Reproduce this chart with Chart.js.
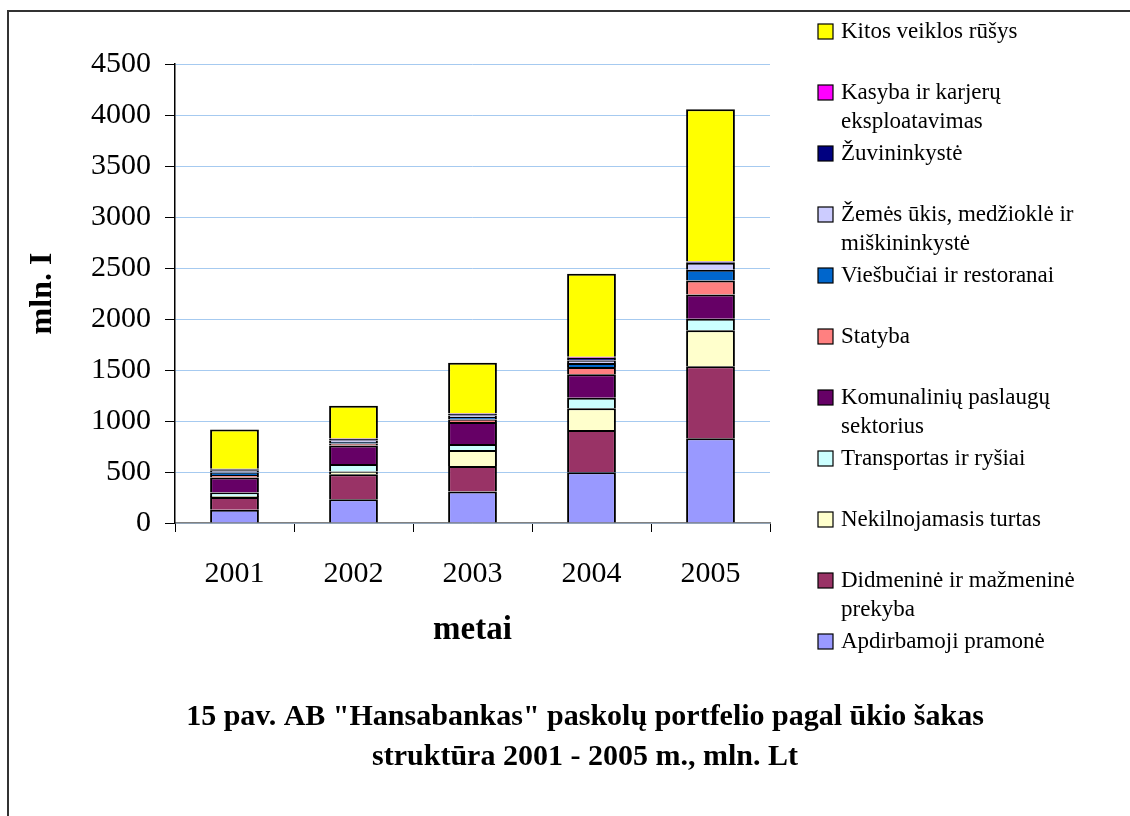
<!DOCTYPE html>
<html>
<head>
<meta charset="utf-8">
<script src="https://cdn.jsdelivr.net/npm/chart.js@4.4.1/dist/chart.umd.min.js"></script>
<style>
  html, body { margin: 0; padding: 0; background: #fff; }
  #wrap { width: 1130px; height: 816px; position: relative; }
</style>
</head>
<body>
<div id="wrap"><canvas id="chart" width="1130" height="816"></canvas></div>
<script>
const years = ['2001', '2002', '2003', '2004', '2005'];

// stacked bottom -> top
const apdirbamoji = [130, 234, 309, 498, 830];
const didmenine = [125, 245, 250, 414, 707];
const nekilnojamasis = [10, 25, 156, 212, 352];
const transportas = [35, 75, 60, 105, 114];
const komunaliniu = [146, 180, 215, 230, 236];
const statyba = [25, 20, 25, 70, 138];
const viesbuciai = [25, 15, 25, 40, 105];
const zemesUkis = [20, 15, 15, 25, 70];
const zuvininkyste = [10, 15, 15, 25, 10];
const kasyba = [5, 5, 5, 10, 5];
const kitos = [385, 320, 495, 815, 1490];

const yTicks = [0, 500, 1000, 1500, 2000, 2500, 3000, 3500, 4000, 4500];

const serif = "'Liberation Serif', 'Times New Roman', serif";

const series = [
  ['Apdirbamoji pramonė', apdirbamoji, '#9999FF'],
  ['Didmeninė ir mažmeninė prekyba', didmenine, '#993366'],
  ['Nekilnojamasis turtas', nekilnojamasis, '#FFFFCC'],
  ['Transportas ir ryšiai', transportas, '#CCFFFF'],
  ['Komunalinių paslaugų sektorius', komunaliniu, '#660066'],
  ['Statyba', statyba, '#FF8080'],
  ['Viešbučiai ir restoranai', viesbuciai, '#0066CC'],
  ['Žemės ūkis, medžioklė ir miškininkystė', zemesUkis, '#CCCCFF'],
  ['Žuvininkystė', zuvininkyste, '#000080'],
  ['Kasyba ir karjerų eksploatavimas', kasyba, '#FF00FF'],
  ['Kitos veiklos rūšys', kitos, '#FFFF00']
];

const datasets = series.map(([label, data, color]) => ({
  label: label,
  data: data,
  backgroundColor: color,
  borderColor: '#000',
  borderWidth: 2,
  barPercentage: 0.41,
  categoryPercentage: 1
}));

function wrapText(ctx, text, maxWidth) {
  const words = text.split(' ');
  const lines = [];
  let line = '';
  words.forEach(w => {
    const test = line ? line + ' ' + w : w;
    if (ctx.measureText(test).width > maxWidth && line) {
      lines.push(line);
      line = w;
    } else {
      line = test;
    }
  });
  lines.push(line);
  return lines;
}

const decorations = {
  id: 'decorations',
  afterDraw(chart) {
    const ctx = chart.ctx;
    ctx.save();
    // frame
    ctx.strokeStyle = '#333';
    ctx.lineWidth = 2;
    ctx.beginPath();
    ctx.moveTo(8, 820);
    ctx.lineTo(8, 11);
    ctx.lineTo(1132, 11);
    ctx.stroke();

    // legend, top entry = last dataset
    ctx.font = '23px ' + serif;
    ctx.textBaseline = 'middle';
    ctx.textAlign = 'left';
    const ds = chart.data.datasets.slice().reverse();
    ds.forEach((d, i) => {
      const y = 32 + i * 61;
      ctx.fillStyle = d.backgroundColor;
      ctx.fillRect(818, y - 8, 15, 15);
      ctx.strokeStyle = '#000';
      ctx.lineWidth = 1.2;
      ctx.strokeRect(818, y - 8, 15, 15);
      ctx.fillStyle = '#000';
      wrapText(ctx, d.label, 272).forEach((ln, j) => {
        ctx.fillText(ln, 841, y + j * 29);
      });
    });

    // caption
    ctx.font = 'bold 30px ' + serif;
    ctx.textAlign = 'center';
    ctx.fillText('15 pav. AB "Hansabankas" paskolų portfelio pagal ūkio šakas', 585, 717);
    ctx.fillText('struktūra 2001 - 2005 m., mln. Lt', 585, 757);
    ctx.restore();
  }
};

new Chart(document.getElementById('chart'), {
  type: 'bar',
  data: { labels: years, datasets: datasets },
  options: {
    responsive: false,
    animation: false,
    layout: { padding: { left: 0, top: 64, right: 360, bottom: 119 } },
    plugins: {
      legend: { display: false },
      tooltip: { enabled: false }
    },
    scales: {
      x: {
        stacked: true,
        afterFit: s => { s.height = 174; },
        grid: { display: true, drawOnChartArea: false, offset: true, tickLength: 9, tickColor: '#000' },
        border: { color: '#808080', width: 1.5 },
        ticks: { color: '#000', font: { family: serif, size: 30 }, padding: 24 },
        title: { display: true, text: 'metai', color: '#000', font: { family: serif, size: 33, weight: 'bold' }, padding: { top: 0, bottom: 47 } }
      },
      y: {
        stacked: true,
        min: 0,
        max: 4500,
        afterFit: s => { s.width = 175; },
        afterBuildTicks: s => { s.ticks = yTicks.map(v => ({ value: v })); },
        grid: { color: '#A6CAF0', tickColor: '#000', tickLength: 10, lineWidth: 1 },
        border: { color: '#000', width: 1.5 },
        ticks: { color: '#000', font: { family: serif, size: 30 }, padding: 14, callback: v => String(v) },
        title: { display: true, text: 'mln. I', color: '#000', font: { family: serif, size: 32, weight: 'bold' }, padding: { top: 24, bottom: 0 } }
      }
    }
  },
  plugins: [decorations]
});
</script>
</body>
</html>
